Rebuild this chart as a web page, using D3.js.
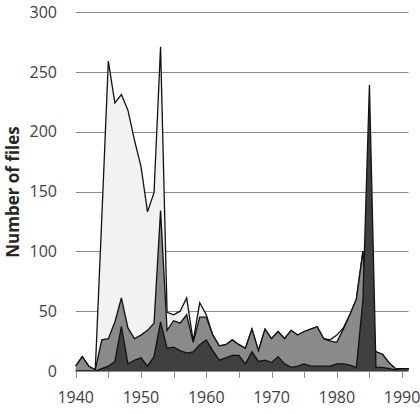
<!DOCTYPE html>
<head>
    <meta charset="utf-8">
    <style>
        body {
            margin: 0;
            background: #fff;
        }
        text {
            font-family: "Open Sans", sans-serif;
            fill: #404040;
        }
        .y-title {
            font-weight: bold;
            fill: #262626;
        }
    </style>
</head>
<body>
<svg width="420" height="414"></svg>
<script src="https://d3js.org/d3.v7.min.js"></script>
<script>

// years shown on the category axis, 1940 .. 1991
var years = [1940, 1941, 1942, 1943, 1944, 1945, 1946, 1947, 1948, 1949,
             1950, 1951, 1952, 1953, 1954, 1955, 1956, 1957, 1958, 1959,
             1960, 1961, 1962, 1963, 1964, 1965, 1966, 1967, 1968, 1969,
             1970, 1971, 1972, 1973, 1974, 1975, 1976, 1977, 1978, 1979,
             1980, 1981, 1982, 1983, 1984, 1985, 1986, 1987, 1988, 1989,
             1990, 1991];

// light grey series (drawn at the back)
var seriesLight = [4, 12, 4, 1, 128, 259, 224, 231, 218, 193,
                   171, 133, 149, 271, 49, 47, 50, 61, 25, 57,
                   47, 30, 21, 22, 26, 22, 19, 35, 17, 35,
                   27, 33, 27, 34, 30, 33, 35, 37, 27, 26,
                   30, 36, 47, 60, 100, 30, 16, 14, 7, 2,
                   2, 2];

// mid grey series
var seriesMid = [4, 12, 4, 1, 26, 27, 41, 61, 36, 27,
                 30, 34, 40, 134, 34, 42, 40, 47, 24, 45,
                 45, 30, 21, 22, 26, 22, 19, 35, 17, 35,
                 27, 33, 27, 34, 30, 33, 35, 37, 27, 25,
                 24, 35, 47, 60, 100, 30, 16, 14, 7, 2,
                 2, 2];

// dark grey series (drawn in front)
var seriesDark = [0, 0, 0, 0, 2, 4, 8, 37, 6, 9,
                  11, 4, 12, 41, 19, 20, 17, 15, 16, 22,
                  26, 17, 9, 11, 13, 13, 6, 16, 8, 9,
                  7, 12, 6, 3, 4, 6, 4, 4, 4, 4,
                  6, 6, 5, 3, 59, 239, 3, 3, 2, 1,
                  2, 2];

var yTicks = [0, 50, 100, 150, 200, 250, 300];
var xTicks = [1940, 1945, 1950, 1955, 1960, 1965, 1970, 1975, 1980, 1985, 1990];
var xLabels = [1940, 1950, 1960, 1970, 1980, 1990];

var svg = d3.select("svg");

var x = d3.scaleLinear()
    .domain([1940, 1991])
    .range([75.7, 408.6]);

var y = d3.scaleLinear()
    .domain([0, 300])
    .range([371, 12]);

// gridlines
svg.append("g")
  .selectAll("line")
  .data(yTicks.slice(1))
  .enter().append("line")
    .attr("x1", x(1940))
    .attr("x2", x(1991))
    .attr("y1", function(d) { return Math.round(y(d)) + 0.5; })
    .attr("y2", function(d) { return Math.round(y(d)) + 0.5; })
    .attr("stroke", "#8c8c8c")
    .attr("stroke-width", 1);

var layers = [
  {values: seriesLight, fill: "#f2f2f2"},
  {values: seriesMid, fill: "#8a8a8a"},
  {values: seriesDark, fill: "#404040"}
];

var area = d3.area()
    .x(function(d, i) { return x(years[i]); })
    .y0(y(0))
    .y1(function(d) { return y(d); });

var line = d3.line()
    .x(function(d, i) { return x(years[i]); })
    .y(function(d) { return y(d); });

var layer = svg.append("g")
  .selectAll("g")
  .data(layers)
  .enter().append("g");

layer.append("path")
    .attr("d", function(d) { return area(d.values); })
    .attr("fill", function(d) { return d.fill; });

layer.append("path")
    .attr("d", function(d) { return line(d.values); })
    .attr("fill", "none")
    .attr("stroke", "#111")
    .attr("stroke-width", 1.3)
    .attr("stroke-linejoin", "miter");

// x axis line and ticks
svg.append("line")
    .attr("x1", x(1940))
    .attr("x2", x(1991))
    .attr("y1", 371.5)
    .attr("y2", 371.5)
    .attr("stroke", "#8c8c8c");

svg.append("g")
  .selectAll("line")
  .data(xTicks)
  .enter().append("line")
    .attr("x1", function(d) { return Math.round(x(d)) + 0.5; })
    .attr("x2", function(d) { return Math.round(x(d)) + 0.5; })
    .attr("y1", 371)
    .attr("y2", 378)
    .attr("stroke", "#8c8c8c");

svg.append("g")
  .selectAll("text")
  .data(xLabels)
  .enter().append("text")
    .attr("x", function(d) { return x(d); })
    .attr("y", 403)
    .attr("text-anchor", "middle")
    .attr("font-size", 16)
    .text(function(d) { return d; });

// y labels
svg.append("g")
  .selectAll("text")
  .data(yTicks)
  .enter().append("text")
    .attr("x", 57)
    .attr("y", function(d) { return y(d); })
    .attr("dy", "0.36em")
    .attr("text-anchor", "end")
    .attr("font-size", 16)
    .text(function(d) { return d; });

svg.append("text")
    .attr("class", "y-title")
    .attr("transform", "translate(19,192)rotate(-90)")
    .attr("text-anchor", "middle")
    .attr("font-size", 17)
    .text("Number of files");

</script>
</body>
